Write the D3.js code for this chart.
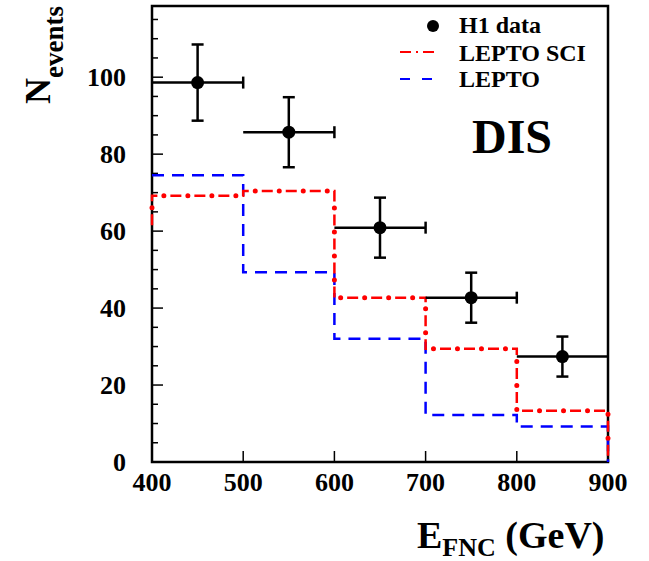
<!DOCTYPE html>
<html><head><meta charset="utf-8">
<script src="https://cdn.jsdelivr.net/npm/d3@7"></script>
<style>body{margin:0;background:#fff}svg{display:block}text{font-family:"Liberation Serif","Times New Roman",serif;font-weight:bold}</style>
</head><body><svg id="c" width="649" height="561"></svg>
<script>
const binEdges = [400, 500, 600, 700, 800, 900];
const h1X = [450, 550, 650, 750, 850];
const h1Y = [98.6, 85.7, 60.9, 42.7, 27.4];
const h1Err = [9.9, 9.1, 7.8, 6.5, 5.2];
const leptoSci = [69.2, 70.4, 42.7, 29.4, 13.3];
const leptoSciBefore = 61.5;   // content of the bin left of the frame (clipped)
const lepto = [74.5, 49.3, 32.0, 12.2, 9.2];
const leptoBefore = 74.5;
const xTicks = [400, 500, 600, 700, 800, 900];
const yTicks = [0, 20, 40, 60, 80, 100];
const legendLabels = ["H1 data", "LEPTO SCI", "LEPTO"];

const svg = d3.select("#c");
const x = d3.scaleLinear().domain([400, 900]).range([152, 608]);
const y = d3.scaleLinear().domain([0, 118.5]).range([462, 6]);

// Frame
svg.append("rect").attr("x", 152).attr("y", 6).attr("width", 456).attr("height", 456)
  .attr("fill", "none").attr("stroke", "#000").attr("stroke-width", 2.5);

// Ticks
const ax = svg.append("g").attr("stroke", "#000").attr("stroke-width", 1.5);
d3.range(0, 119, 5).forEach(v => {
  const major = v % 20 === 0;
  ax.append("line").attr("x1", x(400)).attr("x2", x(400) + (major ? 11 : 6)).attr("y1", y(v)).attr("y2", y(v));
});
xTicks.forEach(v => {
  ax.append("line").attr("x1", x(v)).attr("x2", x(v)).attr("y1", y(0)).attr("y2", y(0) - 11);
});

function stepPts(vals, before) {
  const pts = [[binEdges[0], before]];
  vals.forEach((v, i) => { pts.push([binEdges[i], v]); pts.push([binEdges[i + 1], v]); });
  pts.push([binEdges[binEdges.length - 1], 0]);
  return pts;
}
const line = d3.line().x(d => x(d[0])).y(d => y(d[1]));

// LEPTO (blue dashed)
svg.append("path").attr("d", line(stepPts(lepto, leptoBefore))).attr("fill", "none")
  .attr("stroke", "#0000ff").attr("stroke-width", 2.5).attr("stroke-dasharray", "12,8");
// LEPTO SCI (red dash-dot)
const sciD = line(stepPts(leptoSci, leptoSciBefore));
svg.append("path").attr("d", sciD).attr("fill", "none")
  .attr("stroke", "#ff0000").attr("stroke-width", 2.5).attr("stroke-dasharray", "11,13");
svg.append("path").attr("d", sciD).attr("fill", "none")
  .attr("stroke", "#ff0000").attr("stroke-width", 5).attr("stroke-linecap", "round")
  .attr("stroke-dasharray", "0,24").attr("stroke-dashoffset", -17.5);

// H1 data
const g = svg.append("g").attr("stroke", "#000").attr("stroke-width", 2.5);
h1X.forEach((cx, i) => {
  const x0 = x(cx - 50), x1 = x(cx + 50), yc = y(h1Y[i]);
  const yt = y(h1Y[i] + h1Err[i]), yb = y(h1Y[i] - h1Err[i]);
  g.append("line").attr("x1", x0).attr("x2", x1).attr("y1", yc).attr("y2", yc);
  g.append("line").attr("x1", x(cx)).attr("x2", x(cx)).attr("y1", yt).attr("y2", yb);
  g.append("line").attr("x1", x(cx) - 6).attr("x2", x(cx) + 6).attr("y1", yt).attr("y2", yt);
  g.append("line").attr("x1", x(cx) - 6).attr("x2", x(cx) + 6).attr("y1", yb).attr("y2", yb);
  if (cx + 50 < 900) g.append("line").attr("x1", x1).attr("x2", x1).attr("y1", yc - 6).attr("y2", yc + 6);
  svg.append("circle").attr("cx", x(cx)).attr("cy", yc).attr("r", 6.5).attr("fill", "#000");
});

yTicks.forEach(v => {
  svg.append("text").attr("x", 126).attr("y", y(v) + 9).attr("text-anchor", "end")
    .attr("font-size", 26).text(v);
});
xTicks.forEach(v => {
  svg.append("text").attr("x", x(v)).attr("y", 491).attr("text-anchor", "middle")
    .attr("font-size", 26).text(v);
});

// Axis titles
const xt = svg.append("text").attr("x", 417).attr("y", 548).attr("font-size", 38);
xt.append("tspan").text("E");
xt.append("tspan").attr("font-size", 26).attr("dy", 8).text("FNC");
xt.append("tspan").attr("dy", -8).text(" (GeV)");

const yt = svg.append("text").attr("transform", "translate(50,104) rotate(-90)").attr("font-size", 36);
yt.append("tspan").text("N");
yt.append("tspan").attr("font-size", 27).attr("dy", 13).text("events");

// Legend
svg.append("circle").attr("cx", 433).attr("cy", 26).attr("r", 6).attr("fill", "#000");
svg.append("line").attr("x1", 400).attr("x2", 435).attr("y1", 52).attr("y2", 52)
  .attr("stroke", "#ff0000").attr("stroke-width", 2).attr("stroke-dasharray", "11,5,2,5");
svg.append("line").attr("x1", 400).attr("x2", 435).attr("y1", 79).attr("y2", 79)
  .attr("stroke", "#0000ff").attr("stroke-width", 2).attr("stroke-dasharray", "10,12");
[33, 61, 87].forEach((yy, i) => {
  svg.append("text").attr("x", 459).attr("y", yy).attr("font-size", 24).text(legendLabels[i]);
});

svg.append("text").attr("x", 512).attr("y", 153).attr("text-anchor", "middle")
  .attr("font-size", 48).text("DIS");
</script></body></html>
